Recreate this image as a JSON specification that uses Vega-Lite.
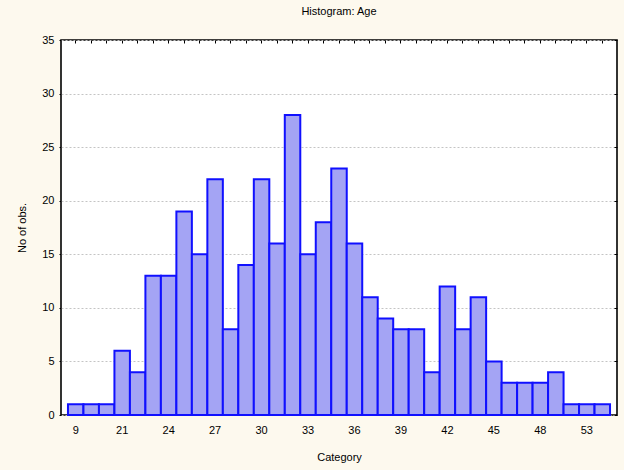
{
  "$schema": "https://vega.github.io/schema/vega-lite/v6.json",
  "width": 556,
  "height": 375,
  "autosize": "none",
  "padding": {"left": 61, "top": 40, "right": 7, "bottom": 55},
  "background": "#fdf9ee",
  "title": {"text": "Histogram: Age", "font": "Liberation Sans", "fontSize": 11, "fontWeight": "normal", "color": "#000", "offset": 17},
  "config": {
    "view": {"stroke": "#000", "strokeWidth": 1.6, "fill": "#ffffff"},
    "axis": {"labelFont": "Liberation Sans", "titleFont": "Liberation Sans", "labelFontSize": 11, "titleFontSize": 11, "titleFontWeight": "normal", "labelColor": "#000", "titleColor": "#000", "tickColor": "#000", "domain": false}
  },
  "data": {"values": [
    {"age": "9", "count": 1},
    {"age": "17", "count": 1},
    {"age": "19", "count": 1},
    {"age": "21", "count": 6},
    {"age": "22", "count": 4},
    {"age": "23", "count": 13},
    {"age": "24", "count": 13},
    {"age": "25", "count": 19},
    {"age": "26", "count": 15},
    {"age": "27", "count": 22},
    {"age": "28", "count": 8},
    {"age": "29", "count": 14},
    {"age": "30", "count": 22},
    {"age": "31", "count": 16},
    {"age": "32", "count": 28},
    {"age": "33", "count": 15},
    {"age": "34", "count": 18},
    {"age": "35", "count": 23},
    {"age": "36", "count": 16},
    {"age": "37", "count": 11},
    {"age": "38", "count": 9},
    {"age": "39", "count": 8},
    {"age": "40", "count": 8},
    {"age": "41", "count": 4},
    {"age": "42", "count": 12},
    {"age": "43", "count": 8},
    {"age": "44", "count": 11},
    {"age": "45", "count": 5},
    {"age": "46", "count": 3},
    {"age": "47", "count": 3},
    {"age": "48", "count": 3},
    {"age": "50", "count": 4},
    {"age": "51", "count": 1},
    {"age": "53", "count": 1},
    {"age": "55", "count": 1}
  ]},
  "layer": [
    {
      "mark": {"type": "bar", "fill": "#a4a4f4", "stroke": "#1010ff", "strokeWidth": 2},
      "encoding": {
        "x": {"field": "age", "type": "nominal", "sort": null,
          "scale": {"paddingInner": 0, "paddingOuter": 0.45},
          "axis": {"orient": "bottom", "title": "Category", "labelAngle": 0, "labelOverlap": false,
            "labelExpr": "indexof(['9','21','24','27','30','33','36','39','42','45','48','53'], datum.label) >= 0 ? datum.label : ''",
            "tickSize": -3, "labelPadding": 12, "titlePadding": 16, "grid": false}},
        "y": {"field": "count", "type": "quantitative",
          "scale": {"domain": [0, 35], "nice": false},
          "axis": {"orient": "left", "title": "No of obs.", "values": [0, 5, 10, 15, 20, 25, 30, 35], "tickSize": 2, "labelPadding": 5, "titlePadding": 14,
            "grid": true, "gridDash": [2, 2], "gridColor": "#c4c4c4", "gridWidth": 1}}
      }
    },
    {
      "mark": {"type": "bar", "opacity": 0},
      "encoding": {
        "x": {"field": "age", "type": "nominal", "sort": null,
          "axis": {"orient": "top", "title": null, "labels": false, "tickSize": -3, "grid": false}},
        "y": {"field": "count", "type": "quantitative",
          "axis": {"orient": "right", "title": null, "labels": false, "values": [0, 5, 10, 15, 20, 25, 30, 35], "tickSize": -3, "grid": false}}
      }
    }
  ],
  "resolve": {"axis": {"x": "independent", "y": "independent"}}
}
